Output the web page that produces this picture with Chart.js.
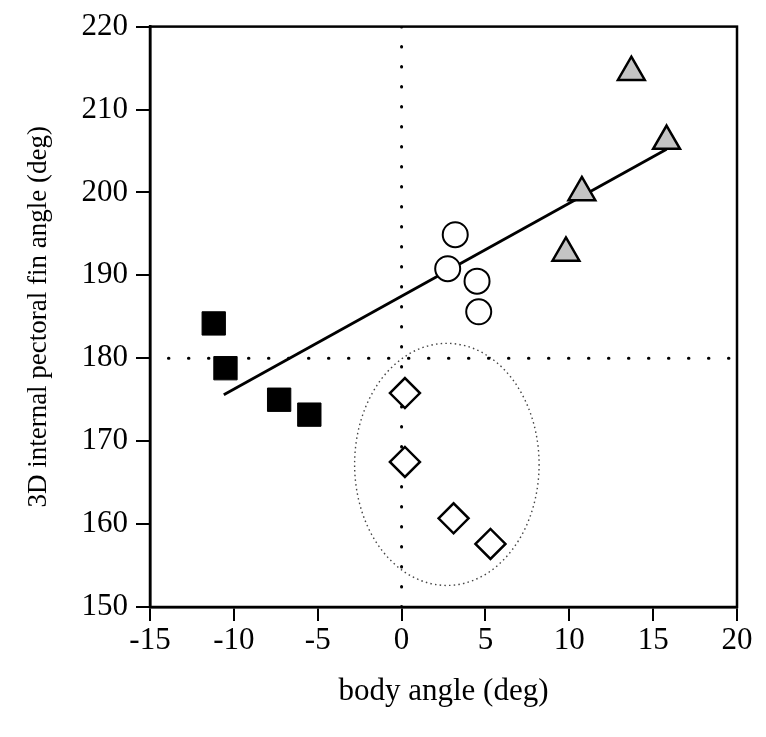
<!DOCTYPE html>
<html>
<head>
<meta charset="utf-8">
<script src="https://cdn.jsdelivr.net/npm/chart.js@4/dist/chart.umd.min.js"></script>
<style>
  body { margin: 0; background: #fff; }
  canvas { display: block; }
</style>
</head>
<body>
<canvas id="finChart" width="766" height="737"></canvas>
<script>
// data
const squareX = [-11.2, -10.5, -7.3, -5.5];
const squareY = [184.2, 178.8, 175.0, 173.2];
const circleX = [3.2, 2.75, 4.5, 4.6];
const circleY = [194.9, 190.8, 189.3, 185.6];
const triangleX = [13.7, 15.8, 10.75, 9.8];
const triangleY = [214.5, 206.2, 200.0, 192.7];
const diamondX = [0.2, 0.2, 3.1, 5.3];
const diamondY = [175.8, 167.5, 160.7, 157.6];
const fitX = [-10.6, 15.8];
const fitY = [175.6, 205.2];
const refX = 0;
const refY = 180;
const refYStart = -13.9;
const ellipseCenter = [2.7, 167.2];
const ellipseRadius = [5.5, 14.6];
const xTicks = [-15, -10, -5, 0, 5, 10, 15, 20];
const yTicks = [150, 160, 170, 180, 190, 200, 210, 220];

const serif = 'Liberation Serif, Times New Roman, serif';

function pts(xs, ys) {
  return xs.map((x, i) => ({ x: x, y: ys[i] }));
}

// dotted ellipse + frame around plot
const extras = {
  id: 'extras',
  beforeDatasetsDraw(chart) {
    const { ctx, scales: { x, y } } = chart;
    const cx = x.getPixelForValue(ellipseCenter[0]);
    const cy = y.getPixelForValue(ellipseCenter[1]);
    const rx = Math.abs(x.getPixelForValue(ellipseCenter[0] + ellipseRadius[0]) - cx);
    const ry = Math.abs(y.getPixelForValue(ellipseCenter[1] + ellipseRadius[1]) - cy);
    ctx.save();
    ctx.strokeStyle = '#444';
    ctx.lineWidth = 1.4;
    ctx.setLineDash([1.5, 3.2]);
    ctx.beginPath();
    ctx.ellipse(cx, cy, rx, ry, 0, 0, Math.PI * 2);
    ctx.stroke();
    ctx.restore();
  },
  afterDraw(chart) {
    const { ctx, chartArea: a } = chart;
    ctx.save();
    ctx.strokeStyle = '#000';
    ctx.lineWidth = 2.5;
    ctx.strokeRect(a.left, a.top, a.right - a.left, a.bottom - a.top);
    ctx.restore();
  }
};

const dots = {
  showLine: true,
  borderColor: '#000',
  borderWidth: 3,
  borderDash: [0.5, 19.5],
  borderCapStyle: 'round',
  pointRadius: 0,
  fill: false,
  order: 5
};

new Chart(document.getElementById('finChart'), {
  type: 'scatter',
  data: {
    datasets: [
      {
        label: 'squares',
        data: pts(squareX, squareY),
        pointStyle: 'rect',
        pointRadius: 16.5,
        backgroundColor: '#000',
        borderColor: '#000',
        borderWidth: 1,
        order: 1
      },
      {
        label: 'circles',
        data: pts(circleX, circleY),
        pointStyle: 'circle',
        pointRadius: 12.5,
        backgroundColor: '#fff',
        borderColor: '#000',
        borderWidth: 2,
        order: 1
      },
      {
        label: 'triangles',
        data: pts(triangleX, triangleY),
        pointStyle: 'triangle',
        pointRadius: 15.5,
        backgroundColor: '#c4c4c4',
        borderColor: '#000',
        borderWidth: 2.5,
        order: 1
      },
      {
        label: 'diamonds',
        data: pts(diamondX, diamondY),
        pointStyle: 'rectRot',
        pointRadius: 15,
        backgroundColor: '#fff',
        borderColor: '#000',
        borderWidth: 2.5,
        order: 1
      },
      {
        label: 'fit',
        data: pts(fitX, fitY),
        showLine: true,
        borderColor: '#000',
        borderWidth: 2.8,
        pointRadius: 0,
        order: 3
      },
      Object.assign({ label: 'x0', data: [{ x: refX, y: 220 }, { x: refX, y: 150 }] }, dots),
      Object.assign({ label: 'y180', data: [{ x: refYStart, y: refY }, { x: 20, y: refY }] }, dots)
    ]
  },
  options: {
    responsive: false,
    animation: false,
    events: [],
    layout: { padding: { top: 22, right: 29, left: 0, bottom: 0 } },
    plugins: { legend: { display: false }, tooltip: { enabled: false } },
    scales: {
      x: {
        min: -15,
        max: 20,
        afterFit: (s) => { s.height = 130; },
        afterBuildTicks: (s) => { s.ticks = xTicks.map((v) => ({ value: v })); },
        ticks: { color: '#000', padding: 1, font: { family: serif, size: 31 }, callback: (v) => String(v) },
        grid: { drawOnChartArea: false, color: '#000', lineWidth: 2, tickLength: 14 },
        border: { color: '#000', width: 2.5 },
        title: { display: true, text: 'body angle (deg)', color: '#000', font: { family: serif, size: 31 }, padding: { top: 0, bottom: 27 } }
      },
      y: {
        min: 150,
        max: 220,
        afterFit: (s) => { s.width = 150; },
        afterBuildTicks: (s) => { s.ticks = yTicks.map((v) => ({ value: v })); },
        ticks: { color: '#000', padding: 8, font: { family: serif, size: 31 }, callback: (v) => String(v) },
        grid: { drawOnChartArea: false, color: '#000', lineWidth: 2, tickLength: 14 },
        border: { color: '#000', width: 2.5 },
        title: { display: true, text: '3D internal pectoral fin angle (deg)', color: '#000', font: { family: serif, size: 27 }, padding: { top: 23, bottom: 0 } }
      }
    }
  },
  plugins: [extras]
});
</script>
</body>
</html>
